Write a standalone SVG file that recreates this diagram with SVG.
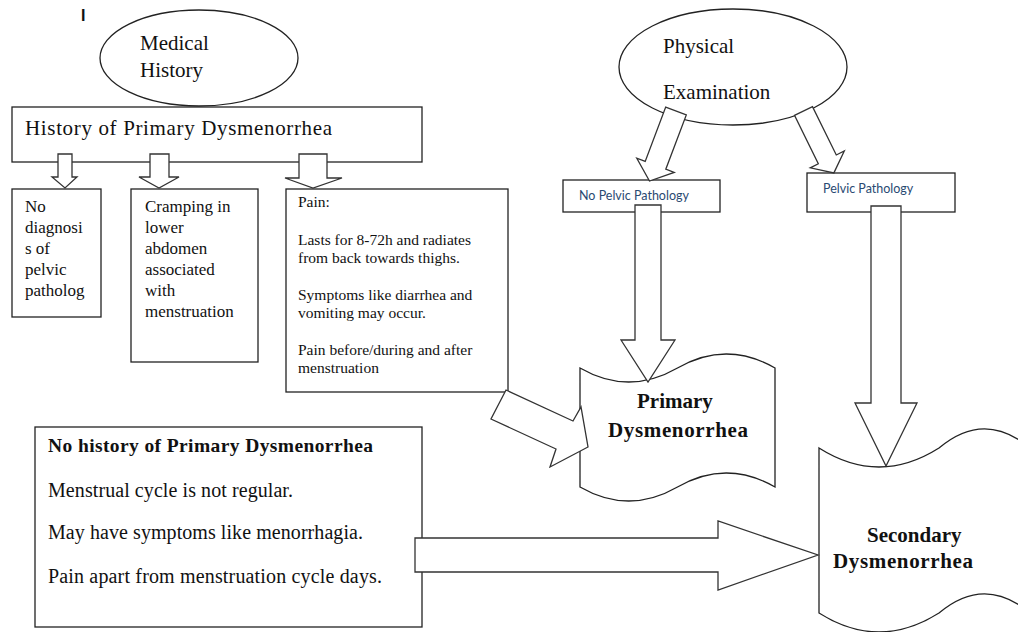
<svg xmlns="http://www.w3.org/2000/svg" width="1018" height="632" viewBox="0 0 1018 632">
<style>
.s{fill:#fff;stroke:#222;stroke-width:1.3}
.a{fill:#fff;stroke:#333;stroke-width:1.3;stroke-linejoin:miter}
.t{font-family:"Liberation Serif","Times New Roman",serif;fill:#111}
.b{font-weight:bold}
.c{font-family:Lato,"Open Sans","Liberation Sans",sans-serif;fill:#2a4a72;font-size:12.5px}
</style>
<rect width="1018" height="632" fill="#fff"/>
<text x="81" y="21" font-family="Liberation Sans, sans-serif" font-weight="bold" font-size="16" fill="#111">I</text>

<g id="medical-history">
<ellipse class="s" cx="199" cy="58" rx="99" ry="48"/>
<text class="t" x="140" y="50" font-size="21">Medical</text>
<text class="t" x="140" y="77" font-size="21">History</text>
</g>

<g id="history-primary">
<rect class="s" x="12" y="107" width="410" height="55"/>
<text class="t" x="25" y="135" font-size="21" textLength="307">History of Primary Dysmenorrhea</text>
</g>

<g id="no-diagnosis">
<rect class="s" x="12" y="189" width="89" height="128"/>
<text class="t" font-size="17"><tspan x="25" y="212">No</tspan><tspan x="25" y="233">diagnosi</tspan><tspan x="25" y="254">s of</tspan><tspan x="25" y="275">pelvic</tspan><tspan x="25" y="296">patholog</tspan></text>
</g>

<g id="cramping">
<rect class="s" x="131" y="189" width="127" height="173"/>
<text class="t" font-size="17"><tspan x="145" y="212">Cramping in</tspan><tspan x="145" y="233">lower</tspan><tspan x="145" y="254">abdomen</tspan><tspan x="145" y="275">associated</tspan><tspan x="145" y="296">with</tspan><tspan x="145" y="317">menstruation</tspan></text>
</g>

<g id="pain">
<rect class="s" x="286" y="189" width="222" height="203"/>
<text class="t" font-size="15.5"><tspan x="298" y="207">Pain:</tspan><tspan x="298" y="245">Lasts for 8-72h and radiates</tspan><tspan x="298" y="263">from back towards thighs.</tspan><tspan x="298" y="300">Symptoms like diarrhea and</tspan><tspan x="298" y="318">vomiting may occur.</tspan><tspan x="298" y="355">Pain before/during and after</tspan><tspan x="298" y="373">menstruation</tspan></text>
</g>

<g id="physical-examination">
<ellipse class="s" cx="733" cy="67" rx="114" ry="58"/>
<text class="t" x="663" y="53" font-size="21">Physical</text>
<text class="t" x="663" y="99" font-size="21">Examination</text>
</g>

<g id="no-pelvic-pathology">
<rect class="s" x="563" y="180" width="157" height="32"/>
<text class="c" x="579" y="200">No Pelvic Pathology</text>
</g>

<g id="pelvic-pathology">
<rect class="s" x="807" y="173" width="148" height="39"/>
<text class="c" x="823" y="193">Pelvic Pathology</text>
</g>

<g id="primary-dysmenorrhea">
<path class="s" d="M580,368 C612.5,386.7 645,386.7 677.5,368 C710,349.3 742.5,349.3 775,368 L775,487 C742.5,468.3 710,468.3 677.5,487 C645,505.7 612.5,505.7 580,487 Z"/>
<text class="t b" x="637" y="408" font-size="21">Primary</text>
<text class="t b" x="608" y="437" font-size="21" textLength="140">Dysmenorrhea</text>
</g>

<g id="secondary-dysmenorrhea">
<path class="s" d="M819,448 C859,473.3 899,473.3 939,448 C969,422.7 1000,422.7 1030,448 L1030,613 C1000,587.7 969,587.7 939,613 C899,638.3 859,638.3 819,613 Z"/>
<text class="t b" x="867" y="542" font-size="21">Secondary</text>
<text class="t b" x="833" y="568" font-size="21" textLength="140">Dysmenorrhea</text>
</g>

<g id="no-history">
<rect class="s" x="35" y="427" width="387" height="200"/>
<text class="t b" x="48" y="452" font-size="19.5" textLength="325">No history of Primary  Dysmenorrhea</text>
<text class="t" x="48" y="497" font-size="20" textLength="245">Menstrual cycle is not regular.</text>
<text class="t" x="48" y="539" font-size="20" textLength="315">May have symptoms like menorrhagia.</text>
<text class="t" x="48" y="583" font-size="20" textLength="334">Pain apart from menstruation cycle days.</text>
</g>

<g id="connectors">
<polygon class="a" points="58,154 72,154 72,177 77,177 65,188 52,177 58,177"/>
<polygon class="a" points="150,154 169,154 169,177 179,177 159,188 139,177 150,177"/>
<polygon class="a" points="299,154 327,154 327,178 342,178 313,188 285,178 299,178"/>
<polygon class="a" points="665.7,107.1 686.3,114.9 665.8,169.2 674.2,172.4 649.5,181 636.8,158.2 645.2,161.4"/>
<polygon class="a" points="794.5,115.4 812.5,106.6 836.3,155 844.3,151 833.9,172.9 810.3,167.8 818.3,163.8"/>
<polygon class="a" points="635,205 661,205 661,340 675,340 648,382 621,340 635,340"/>
<polygon class="a" points="871,206 901,206 901,403 917,403 886,466 855,403 871,403"/>
<polygon class="a" points="506,390 573,421 581,407 588,447 550,467 556,449 491,419"/>
<polygon class="a" points="415,538 718,538 718,521 818,555 718,590 718,572 415,572"/>
</g>
</svg>
